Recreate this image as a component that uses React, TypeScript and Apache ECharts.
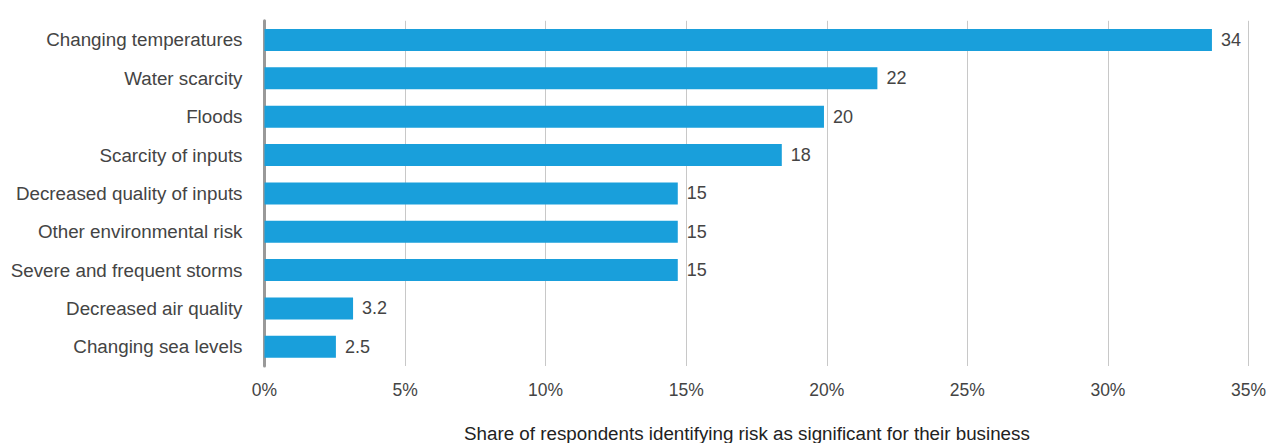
import React, { useEffect, useRef } from "react";
import * as echarts from "echarts";

const categories = [
  "Changing temperatures",
  "Water scarcity",
  "Floods",
  "Scarcity of inputs",
  "Decreased quality of inputs",
  "Other environmental risk",
  "Severe and frequent storms",
  "Decreased air quality",
  "Changing sea levels",
];
const values = [33.7, 21.8, 19.9, 18.4, 14.7, 14.7, 14.7, 3.15, 2.54];
const valueLabels = ["34", "22", "20", "18", "15", "15", "15", "3.2", "2.5"];
const xTicks = [0, 5, 10, 15, 20, 25, 30, 35];
const axisTitle = "Share of respondents identifying risk as significant for their business";

export default function App() {
  const ref = useRef<HTMLDivElement>(null);
  useEffect(() => {
    if (!ref.current) return;
    const chart = echarts.init(ref.current, undefined, { renderer: "svg" });
    const font = "'Liberation Sans', Arial, Helvetica, sans-serif";
    chart.setOption({
      animation: false,
      textStyle: { fontFamily: font },
      grid: { left: 264.5, top: 20.8, width: 984.5, height: 345.2, containLabel: false },
      xAxis: {
        type: "value",
        min: xTicks[0],
        max: xTicks[xTicks.length - 1],
        interval: 5,
        axisLine: { show: false },
        axisTick: { show: false },
        splitLine: { show: true, lineStyle: { color: "#c8c8c8", width: 1 } },
        axisLabel: {
          color: "#444",
          fontSize: 17.5,
          fontFamily: font,
          margin: 15,
          formatter: (v: number) => v + "%",
        },
      },
      yAxis: {
        type: "category",
        data: categories,
        inverse: true,
        axisLine: { show: true, lineStyle: { color: "#999", width: 3 } },
        axisTick: { show: false },
        axisLabel: { color: "#444", fontSize: 18.8, fontFamily: font, margin: 22 },
      },
      series: [
        {
          type: "bar",
          data: values,
          barWidth: 22,
          itemStyle: { color: "#199fdb" },
          label: {
            show: true,
            position: "right",
            distance: 9,
            color: "#444",
            fontSize: 18,
            fontFamily: font,
            formatter: (p: any) => valueLabels[p.dataIndex],
          },
        },
      ],
      graphic: [
        {
          type: "text",
          left: 464,
          top: 424,
          style: { text: axisTitle, fill: "#222", font: "18.8px " + font },
        },
      ],
    });
    return () => chart.dispose();
  }, []);
  return (
    <div
      ref={ref}
      style={{ position: "fixed", left: 0, top: 0, width: 1269, height: 443, background: "#fff" }}
    />
  );
}
